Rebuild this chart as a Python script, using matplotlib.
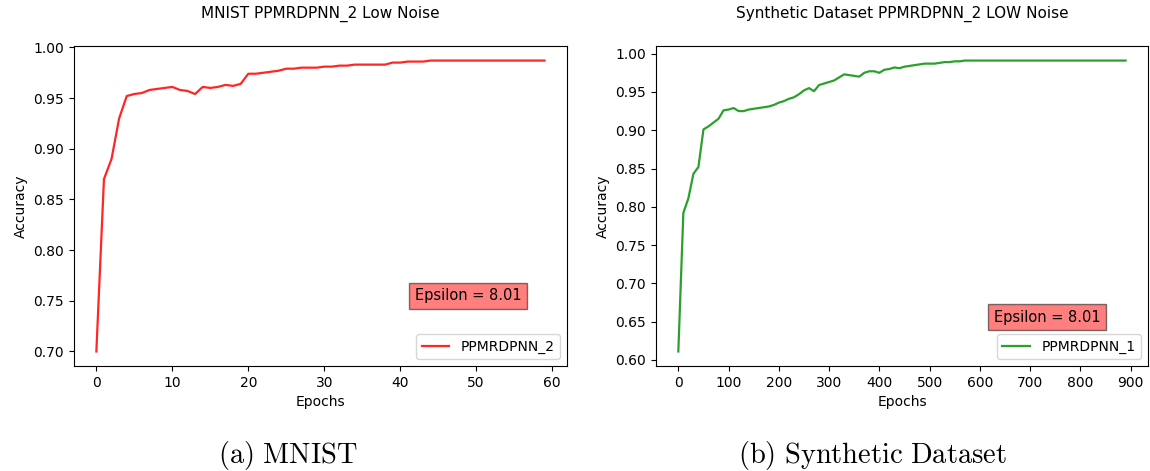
import matplotlib
matplotlib.use('Agg')
import matplotlib.pyplot as plt
from matplotlib.ticker import MultipleLocator

# data MNIST (60 epoch)
mnist_epoch = list(range(60))
mnist_acc = [
    0.700, 0.870, 0.890, 0.930, 0.952, 0.954, 0.955, 0.958, 0.959, 0.960,
    0.961, 0.958, 0.957, 0.954, 0.961, 0.960, 0.961, 0.963, 0.962, 0.964,
    0.974, 0.974, 0.975, 0.976, 0.977, 0.979, 0.979, 0.980, 0.980, 0.980,
    0.981, 0.981, 0.982, 0.982, 0.983, 0.983, 0.983, 0.983, 0.983, 0.985,
    0.985, 0.986, 0.986, 0.986, 0.987, 0.987, 0.987, 0.987, 0.987, 0.987,
    0.987, 0.987, 0.987, 0.987, 0.987, 0.987, 0.987, 0.987, 0.987, 0.987,
]

# data synthetic (tiap 10 epoch)
synth_epoch = list(range(0, 900, 10))
synth_acc = [
    0.611, 0.792, 0.811, 0.843, 0.852, 0.901, 0.905, 0.910, 0.915, 0.926,
    0.927, 0.929, 0.925, 0.925, 0.927, 0.928, 0.929, 0.930, 0.931, 0.933,
    0.936, 0.938, 0.941, 0.943, 0.947, 0.952, 0.955, 0.951, 0.959, 0.961,
    0.963, 0.965, 0.969, 0.973, 0.972, 0.971, 0.970, 0.975, 0.977, 0.977,
    0.975, 0.979, 0.980, 0.982, 0.981, 0.983, 0.984, 0.985, 0.986, 0.987,
    0.987, 0.987, 0.988, 0.989, 0.989, 0.990, 0.990, 0.991, 0.991, 0.991,
    0.991, 0.991, 0.991, 0.991, 0.991, 0.991, 0.991, 0.991, 0.991, 0.991,
    0.991, 0.991, 0.991, 0.991, 0.991, 0.991, 0.991, 0.991, 0.991, 0.991,
    0.991, 0.991, 0.991, 0.991, 0.991, 0.991, 0.991, 0.991, 0.991, 0.991,
]

plt.rcParams['mathtext.fontset'] = 'cm'

fig = plt.figure(figsize=(11.5, 4.71), dpi=100)
ax1 = fig.add_axes([0.0643, 0.2229, 0.4287, 0.6794])
ax2 = fig.add_axes([0.5704, 0.2229, 0.4278, 0.6794])

# kiri: MNIST
ax1.plot(mnist_epoch, mnist_acc, color='red', alpha=0.85, linewidth=1.6, label='PPMRDPNN_2')
ax1.set_title('MNIST PPMRDPNN_2 Low Noise', fontsize=11, pad=20)
ax1.set_xlabel('Epochs')
ax1.set_ylabel('Accuracy')
ax1.yaxis.set_major_locator(MultipleLocator(0.05))
ax1.text(0.80, 0.219, 'Epsilon = 8.01', transform=ax1.transAxes, fontsize=10.5,
         ha='center', va='center', bbox=dict(facecolor='red', alpha=0.5))
ax1.legend(loc='lower right')

# kanan: synthetic
ax2.plot(synth_epoch, synth_acc, color='tab:green', linewidth=1.6, label='PPMRDPNN_1')
ax2.set_title('Synthetic Dataset PPMRDPNN_2 LOW Noise', fontsize=11, pad=20)
ax2.set_xlabel('Epochs')
ax2.set_ylabel('Accuracy')
ax2.xaxis.set_major_locator(MultipleLocator(100))
ax2.yaxis.set_major_locator(MultipleLocator(0.05))
ax2.text(0.795, 0.153, 'Epsilon = 8.01', transform=ax2.transAxes, fontsize=10.5,
         ha='center', va='center', bbox=dict(facecolor='red', alpha=0.5))
ax2.legend(loc='lower right')

# caption bawah
fig.text(288 / 1150, 1 - 455 / 471, r'$\mathrm{(a)\ MNIST}$', fontsize=20.5, ha='center', va='center')
fig.text(872 / 1150, 1 - 455 / 471, r'$\mathrm{(b)\ Synthetic\ Dataset}$', fontsize=20.5, ha='center', va='center')

fig.savefig('out.png', dpi=100)
